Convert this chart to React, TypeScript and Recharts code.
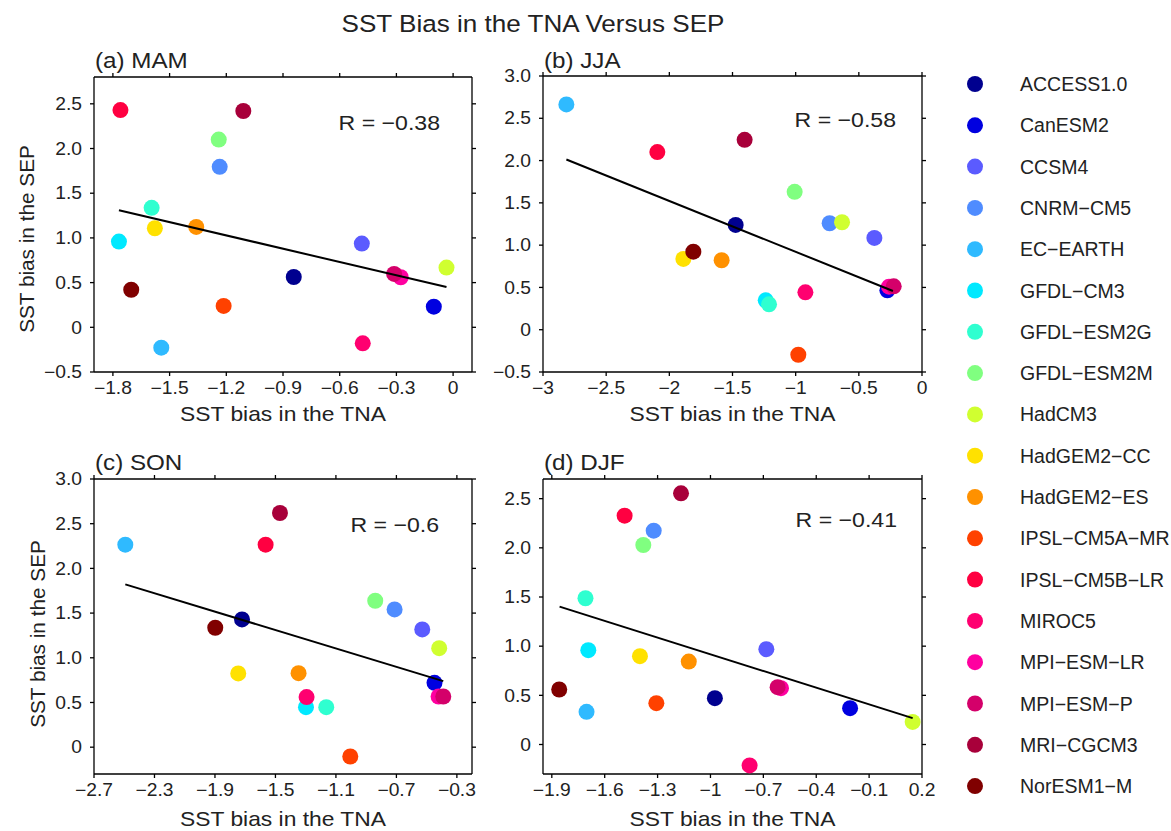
import React from 'react';
import { ScatterChart, Scatter, XAxis, YAxis, Cell } from 'recharts';

// ---------- data ----------
const models = [
  'ACCESS1.0', 'CanESM2', 'CCSM4', 'CNRM−CM5', 'EC−EARTH', 'GFDL−CM3', 'GFDL−ESM2G', 'GFDL−ESM2M', 'HadCM3',
  'HadGEM2−CC', 'HadGEM2−ES', 'IPSL−CM5A−MR', 'IPSL−CM5B−LR', 'MIROC5', 'MPI−ESM−LR', 'MPI−ESM−P', 'MRI−CGCM3', 'NorESM1−M',
];
const colors = [
  '#00008F', '#0000E0', '#5B5BFF', '#4F8CFF', '#2FBAFF', '#00E9FF', '#2FFFD0', '#80FF80', '#D0FF30',
  '#FFE100', '#FF9100', '#FF4100', '#FF0041', '#FF0070', '#FF00A0', '#D4006A', '#A8003A', '#800000',
];

const mamTNA = [-0.843, -0.102, -0.483, -1.235, -1.544, -1.768, -1.595, -1.24, -0.035, -1.578, -1.359, -1.214, -1.76, -0.478, -0.277, -0.312, -1.11, -1.703];
const mamSEP = [0.563, 0.231, 0.937, 1.795, -0.228, 0.959, 1.336, 2.1, 0.668, 1.108, 1.123, 0.239, 2.43, -0.179, 0.56, 0.597, 2.42, 0.42];
const jjaTNA = [-1.475, -0.274, -0.377, -0.731, -2.815, -1.237, -1.211, -1.008, -0.633, -1.889, -1.586, -0.979, -2.095, -0.923, -0.261, -0.224, -1.404, -1.81];
const jjaSEP = [1.239, 0.466, 1.085, 1.259, 2.664, 0.347, 0.3, 1.63, 1.271, 0.837, 0.821, -0.296, 2.1, 0.442, 0.509, 0.513, 2.245, 0.923];
const sonTNA = [-1.721, -0.448, -0.529, -0.712, -2.493, -1.298, -1.164, -0.84, -0.417, -1.746, -1.347, -1.005, -1.565, -1.294, -0.421, -0.39, -1.47, -1.898];
const sonSEP = [1.429, 0.72, 1.317, 1.541, 2.265, 0.448, 0.448, 1.638, 1.108, 0.825, 0.828, -0.104, 2.265, 0.56, 0.567, 0.567, 2.62, 1.336];
const djfTNA = [-0.975, -0.208, -0.683, -1.322, -1.703, -1.693, -1.709, -1.381, 0.147, -1.4, -1.123, -1.307, -1.487, -0.778, -0.6, -0.619, -1.167, -1.858];
const djfSEP = [0.471, 0.369, 0.969, 2.175, 0.332, 0.959, 1.487, 2.029, 0.23, 0.898, 0.843, 0.42, 2.327, -0.213, 0.573, 0.583, 2.554, 0.559];

// regression line end points
const mamFitTNA = [-1.768, -0.035];
const mamFitSEP = [1.31, 0.45];
const jjaFitTNA = [-2.815, -0.23];
const jjaFitSEP = [2.013, 0.458];
const sonFitTNA = [-2.493, -0.39];
const sonFitSEP = [1.821, 0.739];
const djfFitTNA = [-1.856, 0.147];
const djfFitSEP = [1.402, 0.268];

const correlations = ['R = −0.38', 'R = −0.58', 'R = −0.6', 'R = −0.41'];
const panelTitles = ['(a) MAM', '(b) JJA', '(c) SON', '(d) DJF'];

// ticks
const mamXTicks = [-1.8, -1.5, -1.2, -0.9, -0.6, -0.3, 0];
const mamXLabels = ['−1.8', '−1.5', '−1.2', '−0.9', '−0.6', '−0.3', '0'];
const mamYTicks = [-0.5, 0, 0.5, 1, 1.5, 2, 2.5];
const mamYLabels = ['−0.5', '0', '0.5', '1.0', '1.5', '2.0', '2.5'];
const jjaXTicks = [-3, -2.5, -2, -1.5, -1, -0.5, 0];
const jjaXLabels = ['−3', '−2.5', '−2', '−1.5', '−1', '−0.5', '0'];
const jjaYTicks = [-0.5, 0, 0.5, 1, 1.5, 2, 2.5, 3];
const jjaYLabels = ['−0.5', '0', '0.5', '1.0', '1.5', '2.0', '2.5', '3.0'];
const sonXTicks = [-2.7, -2.3, -1.9, -1.5, -1.1, -0.7, -0.3];
const sonXLabels = ['−2.7', '−2.3', '−1.9', '−1.5', '−1.1', '−0.7', '−0.3'];
const sonYTicks = [0, 0.5, 1, 1.5, 2, 2.5, 3];
const sonYLabels = ['0', '0.5', '1.0', '1.5', '2.0', '2.5', '3.0'];
const djfXTicks = [-1.9, -1.6, -1.3, -1, -0.7, -0.4, -0.1, 0.2];
const djfXLabels = ['−1.9', '−1.6', '−1.3', '−1', '−0.7', '−0.4', '−0.1', '0.2'];
const djfYTicks = [0, 0.5, 1, 1.5, 2, 2.5];
const djfYLabels = ['0', '0.5', '1.0', '1.5', '2.0', '2.5'];

// ---------- style ----------
const FONT = '"Liberation Sans", Arial, Helvetica, sans-serif';
const TXT = '#222';
const SX = 1.1;
const LW = 90, RW = 20, TH = 20, BH = 60;
const TICK = 4;
const STROKE = '#000';
const SW = 1.3;

type Box = { x1: number; y1: number; x2: number; y2: number };

const labelOf = (ticks: number[], labels: string[], v: number) => {
  const i = ticks.findIndex((t) => Math.abs(t - v) < 1e-9);
  return i >= 0 ? labels[i] : String(v);
};

const Hidden = () => <g />;

type PanelCfg = {
  box: Box; xDomain: number[]; yDomain: number[];
  xTicks: number[]; xLabels: string[]; yTicks: number[]; yLabels: string[];
  tna: number[]; sep: number[]; fitX: number[]; fitY: number[];
};

function Panel(props: PanelCfg) {
  const { box, xDomain, yDomain, xTicks, xLabels, yTicks, yLabels, tna, sep, fitX, fitY } = props;
  const w = box.x2 - box.x1 + LW + RW;
  const h = box.y2 - box.y1 + TH + BH;
  const data = models.map((m, i) => ({ name: m, x: tna[i], y: sep[i], color: colors[i] }));
  const fit = fitX.map((x, i) => ({ x, y: fitY[i] }));
  const axisStroke = { stroke: STROKE, strokeWidth: SW };
  const xTick = (p: any) => (
    <text transform={`translate(${p.x},${p.y}) scale(${SX},1)`} x={0} y={0} dy="0.71em" textAnchor="middle"
      fontSize={17.5} fontFamily={FONT} fill={TXT}>{labelOf(xTicks, xLabels, p.payload.value)}</text>
  );
  const yTick = (p: any) => (
    <text transform={`translate(${p.x},${p.y}) scale(${SX},1)`} x={0} y={0} dy="0.355em" textAnchor="end"
      fontSize={17.5} fontFamily={FONT} fill={TXT}>{labelOf(yTicks, yLabels, p.payload.value)}</text>
  );
  const dot = (p: any) => (
    <circle cx={p.cx} cy={p.cy} r={8} fill={(p.payload && p.payload.color) || p.fill} />
  );
  return (
    <div style={{ position: 'absolute', left: box.x1 - LW, top: box.y1 - TH }}>
      <ScatterChart width={w} height={h} margin={{ top: TH, right: RW, bottom: 0, left: 0 }}>
        <XAxis type="number" dataKey="x" domain={xDomain} ticks={xTicks} interval={0}
          height={BH} tickSize={TICK} tickMargin={6} axisLine={axisStroke} tickLine={axisStroke} tick={xTick} />
        <YAxis type="number" dataKey="y" domain={yDomain} ticks={yTicks} interval={0}
          width={LW} tickSize={TICK} tickMargin={8} axisLine={axisStroke} tickLine={axisStroke} tick={yTick} />
        <Scatter data={data} shape={dot} isAnimationActive={false}>
          {data.map((d, i) => <Cell key={i} fill={d.color} />)}
        </Scatter>
        <Scatter data={fit} shape={Hidden} line={{ stroke: '#000', strokeWidth: 2 }}
          fill="#000" isAnimationActive={false} />
      </ScatterChart>
    </div>
  );
}

// top and right frame edges with mirrored tick marks
function Frame({ cfg }: { cfg: PanelCfg }) {
  const { box, xDomain, yDomain, xTicks, yTicks } = cfg;
  const sx = (v: number) => box.x1 + ((v - xDomain[0]) / (xDomain[1] - xDomain[0])) * (box.x2 - box.x1);
  const sy = (v: number) => box.y2 - ((v - yDomain[0]) / (yDomain[1] - yDomain[0])) * (box.y2 - box.y1);
  return (
    <g>
      <line x1={box.x1} y1={box.y1} x2={box.x2} y2={box.y1} stroke={STROKE} strokeWidth={SW} />
      <line x1={box.x2} y1={box.y1} x2={box.x2} y2={box.y2} stroke={STROKE} strokeWidth={SW} />
      {xTicks.map((t) => <line key={'x' + t} x1={sx(t)} x2={sx(t)} y1={box.y1} y2={box.y1 - TICK} stroke={STROKE} strokeWidth={SW} />)}
      {yTicks.map((t) => <line key={'y' + t} x1={box.x2} x2={box.x2 + TICK} y1={sy(t)} y2={sy(t)} stroke={STROKE} strokeWidth={SW} />)}
    </g>
  );
}

const boxes: Box[] = [
  { x1: 94, y1: 77, x2: 472, y2: 372 },
  { x1: 543, y1: 76, x2: 922, y2: 372 },
  { x1: 94, y1: 479, x2: 472, y2: 774 },
  { x1: 543, y1: 479, x2: 922, y2: 774 },
];

const panels: PanelCfg[] = [
  { box: boxes[0], xDomain: [-1.9, 0.1], yDomain: [-0.5, 2.8], xTicks: mamXTicks, xLabels: mamXLabels,
    yTicks: mamYTicks, yLabels: mamYLabels, tna: mamTNA, sep: mamSEP, fitX: mamFitTNA, fitY: mamFitSEP },
  { box: boxes[1], xDomain: [-3, 0], yDomain: [-0.5, 3], xTicks: jjaXTicks, xLabels: jjaXLabels,
    yTicks: jjaYTicks, yLabels: jjaYLabels, tna: jjaTNA, sep: jjaSEP, fitX: jjaFitTNA, fitY: jjaFitSEP },
  { box: boxes[2], xDomain: [-2.7, -0.2], yDomain: [-0.3, 3], xTicks: sonXTicks, xLabels: sonXLabels,
    yTicks: sonYTicks, yLabels: sonYLabels, tna: sonTNA, sep: sonSEP, fitX: sonFitTNA, fitY: sonFitSEP },
  { box: boxes[3], xDomain: [-1.95, 0.2], yDomain: [-0.3, 2.7], xTicks: djfXTicks, xLabels: djfXLabels,
    yTicks: djfYTicks, yLabels: djfYLabels, tna: djfTNA, sep: djfSEP, fitX: djfFitTNA, fitY: djfFitSEP },
];

function SText(p: { x: number; y: number; size: number; anchor?: string; sx?: number; children: any }) {
  return (
    <text transform={`translate(${p.x},${p.y}) scale(${p.sx ?? SX},1)`} x={0} y={0} textAnchor={p.anchor ?? 'start'}
      fontSize={p.size} fontFamily={FONT} fill={TXT}>{p.children}</text>
  );
}

export default function App() {
  const rPos = [[440, 130], [896, 127], [439, 532], [897, 527]];
  const tPos = [[95, 68], [544, 68], [95, 470], [544, 470]];
  const xTitleY = [421, 421, 826, 826];
  return (
    <div style={{ position: 'absolute', left: 0, top: 0, width: 1171, height: 831, background: '#fff', overflow: 'hidden' }}>
      {panels.map((p, i) => <Panel key={i} {...p} />)}
      <svg width={1171} height={831} style={{ position: 'absolute', left: 0, top: 0, pointerEvents: 'none' }}>
        {panels.map((p, i) => <Frame key={i} cfg={p} />)}
        <SText x={533} y={32} size={23.7} anchor="middle">SST Bias in the TNA Versus SEP</SText>
        {panelTitles.map((t, i) => (
          <SText key={t} x={tPos[i][0]} y={tPos[i][1]} size={22}>{t}</SText>
        ))}
        {correlations.map((t, i) => (
          <SText key={t} x={rPos[i][0]} y={rPos[i][1]} size={21} anchor="end">{t}</SText>
        ))}
        {boxes.map((b, i) => (
          <SText key={i} x={(b.x1 + b.x2) / 2} y={xTitleY[i]} size={20.75} anchor="middle">SST bias in the TNA</SText>
        ))}
        <text transform="translate(34,239) rotate(-90)" textAnchor="middle" fontSize={20.75} fontFamily={FONT} fill={TXT}>SST bias in the SEP</text>
        <text transform="translate(45,634) rotate(-90)" textAnchor="middle" fontSize={20.75} fontFamily={FONT} fill={TXT}>SST bias in the SEP</text>
        {models.map((m, i) => (
          <g key={m}>
            <circle cx={975} cy={84 + i * 41.3} r={8} fill={colors[i]} />
            <text x={1020} y={84 + i * 41.3 + 7} fontSize={19.5} fontFamily={FONT} fill={TXT}>{m}</text>
          </g>
        ))}
      </svg>
    </div>
  );
}
